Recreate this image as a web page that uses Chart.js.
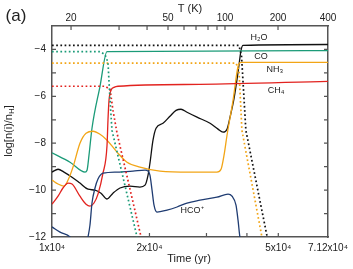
<!DOCTYPE html>
<html>
<head>
<meta charset="utf-8">
<script src="https://cdn.jsdelivr.net/npm/chart.js@4.4.0/dist/chart.umd.min.js"></script>
<style>
  html, body { margin: 0; padding: 0; background: #fff; }
</style>
</head>
<body>
<canvas id="myChart" width="353" height="269"></canvas>
<script>
// times in yr, abundances as log[n(i)/nH]
const h2oGasTime = [1.0e4, 1.044e4, 1.089e4, 1.153e4, 1.220e4, 1.292e4, 1.358e4, 1.417e4, 1.479e4, 1.543e4, 1.622e4, 1.741e4, 1.869e4, 1.938e4, 1.980e4, 2.007e4, 2.051e4, 2.096e4, 2.202e4, 2.314e4, 2.416e4, 2.503e4, 2.612e4, 2.805e4, 3.077e4, 3.257e4, 3.375e4, 3.472e4, 3.547e4, 3.650e4, 3.755e4, 3.836e4, 3.891e4, 7.12e4];
const h2oGasLog = [-9.23, -9.11, -9.23, -9.45, -9.70, -9.96, -10.0, -10.13, -10.38, -10.13, -9.91, -9.83, -9.87, -9.79, -9.36, -8.85, -7.87, -7.36, -7.15, -6.85, -6.60, -6.55, -6.68, -6.89, -7.15, -7.40, -7.53, -7.40, -6.89, -6.09, -4.98, -4.04, -3.83, -3.79];

const coGasTime = [1.0e4, 1.137e4, 1.265e4, 1.283e4, 1.301e4, 1.329e4, 1.407e4, 1.479e4, 7.12e4];
const coGasLog = [-8.41, -8.81, -9.23, -9.15, -8.51, -7.36, -5.57, -4.09, -4.05];

const nh3GasTime = [1.0e4, 1.044e4, 1.089e4, 1.121e4, 1.161e4, 1.220e4, 1.274e4, 1.339e4, 1.407e4, 1.479e4, 1.588e4, 1.705e4, 1.869e4, 2.156e4, 2.669e4, 3.233e4, 3.327e4, 3.399e4, 3.472e4, 3.624e4, 3.755e4, 3.836e4, 7.12e4];
const nh3GasLog = [-9.57, -9.74, -9.83, -9.57, -9.02, -8.0, -7.57, -7.49, -7.62, -7.87, -8.38, -8.81, -9.02, -9.19, -9.23, -9.23, -9.11, -8.51, -7.66, -6.17, -4.72, -4.55, -4.55];

const ch4GasTime = [1.0e4, 1.044e4, 1.081e4, 1.121e4, 1.153e4, 1.220e4, 1.274e4, 1.310e4, 1.348e4, 1.387e4, 1.437e4, 1.479e4, 1.489e4, 1.500e4, 1.522e4, 1.554e4, 1.599e4, 2.865e4, 7.12e4];
const ch4GasLog = [-10.60, -10.26, -9.91, -9.70, -9.74, -10.26, -10.60, -10.68, -10.55, -10.17, -9.28, -8.09, -7.02, -6.17, -5.74, -5.62, -5.57, -5.49, -5.36];

const hcoTime = [1.0e4, 1.059e4, 1.137e4, 1.186e4, 1.274e4, 1.292e4, 1.310e4, 1.329e4, 1.358e4, 1.387e4, 1.437e4, 1.588e4, 1.779e4, 1.938e4, 1.980e4, 2.007e4, 2.037e4, 2.066e4, 2.110e4, 2.266e4, 2.433e4, 2.612e4, 2.865e4, 3.233e4, 3.498e4, 3.598e4, 3.701e4, 3.755e4, 3.805e4, 3.92e4];
const hcoLog = [-11.57, -11.79, -12.0, -12.4, -12.4, -12.0, -11.49, -10.55, -9.91, -9.53, -9.28, -9.23, -9.19, -9.15, -9.19, -9.36, -10.0, -10.64, -10.94, -10.85, -10.72, -10.55, -10.43, -10.30, -10.17, -10.26, -10.64, -11.28, -12.0, -12.5];

// ices (dotted)
const h2oIceTime = [1.0e4, 3.78e4, 3.85e4, 3.97e4, 4.62e4];
const h2oIceLog = [-3.83, -3.83, -4.3, -7.45, -12.0];
const coIceTime = [1.0e4, 1.407e4, 1.458e4, 1.489e4, 1.511e4, 1.532e4, 1.831e4];
const coIceLog = [-4.09, -4.09, -4.22, -4.55, -6.17, -7.45, -12.0];
const nh3IceTime = [1.0e4, 3.70e4, 3.78e4, 3.86e4, 4.45e4];
const nh3IceLog = [-4.58, -4.58, -4.89, -7.45, -12.0];
const ch4IceTime = [1.0e4, 1.458e4, 1.511e4, 1.543e4, 1.588e4, 1.884e4];
const ch4IceLog = [-5.57, -5.57, -5.70, -6.60, -7.57, -12.0];

// axes
const timeTicks = [1e4, 2e4, 3e4, 4e4, 5e4, 7.12e4];
const timeLabels = ['1x10\u2074', '2x10\u2074', '', '', '5x10\u2074', '7.12x10\u2074'];
const tempTicks = [1.145e4, 1.611e4, 1.966e4, 2.282e4, 2.557e4, 2.785e4, 3.033e4, 3.233e4, 3.422e4, 4.990e4, 7.12e4];
const tempLabels = ['20', '', '', '50', '', '', '', '', '100', '200', '400'];

// species labels: [text, time, log]
const speciesLabels = [
    ['H\u2082O', 4.36e4, -3.49],
    ['CO', 4.42e4, -4.30],
    ['NH\u2083', 4.88e4, -4.85],
    ['CH\u2084', 4.92e4, -5.74],
    ['HCO\u207A', 2.707e4, -10.85]
];

const BLACK = '#111111';
const GREEN = '#1b9b78';
const ORANGE = '#f2a516';
const RED = '#e2231f';
const NAVY = '#1f3c72';
const FONT = "'Liberation Sans', Arial, sans-serif";

function pts(times, logs) {
    return times.map(function (t, i) { return { x: t, y: logs[i] }; });
}

function solid(times, logs, color) {
    return {
        data: pts(times, logs),
        borderColor: color,
        borderWidth: 1.3,
        pointRadius: 0,
        cubicInterpolationMode: 'monotone',
        fill: false
    };
}

function dotted(times, logs, color) {
    return {
        data: pts(times, logs),
        borderColor: color,
        borderWidth: 1.7,
        borderDash: [1.7, 2.5],
        borderCapStyle: 'butt',
        pointRadius: 0,
        tension: 0,
        fill: false
    };
}

const frameTicks = {
    id: 'frameTicks',
    afterDraw(chart) {
        const ctx = chart.ctx;
        const a = chart.chartArea;
        const sx = chart.scales.x, sx2 = chart.scales.x2, sy = chart.scales.y;
        ctx.save();
        ctx.strokeStyle = '#555';
        ctx.lineWidth = 1.2;
        ctx.beginPath();
        timeTicks.forEach(function (v) {
            const px = sx.getPixelForValue(v);
            if (px > a.left + 1 && px < a.right - 1) { ctx.moveTo(px, a.bottom); ctx.lineTo(px, a.bottom - 4); }
        });
        tempTicks.forEach(function (v) {
            const px = sx2.getPixelForValue(v);
            if (px > a.left + 1 && px < a.right - 1) { ctx.moveTo(px, a.top); ctx.lineTo(px, a.top + 4); }
        });
        sy.ticks.forEach(function (t) {
            const py = sy.getPixelForValue(t.value);
            if (py > a.top + 1 && py < a.bottom - 1) {
                ctx.moveTo(a.left, py); ctx.lineTo(a.left + 4, py);
                ctx.moveTo(a.right, py); ctx.lineTo(a.right - 4, py);
            }
        });
        ctx.stroke();

        // species names
        ctx.fillStyle = '#222';
        ctx.font = '9px ' + FONT;
        ctx.textAlign = 'center';
        ctx.textBaseline = 'middle';
        speciesLabels.forEach(function (s) {
            ctx.fillText(s[0], sx.getPixelForValue(s[1]), sy.getPixelForValue(s[2]));
        });

        // titles
        ctx.fillStyle = '#222';
        ctx.font = '11px ' + FONT;
        ctx.fillText('Time (yr)', 189, 259);
        ctx.fillText('T (K)', 190, 9);
        ctx.font = '17px ' + FONT;
        ctx.fillText('(a)', 16, 16);

        // y title with subscript H
        ctx.save();
        ctx.translate(9, 131);
        ctx.rotate(-Math.PI / 2);
        ctx.textAlign = 'left';
        ctx.font = '11px ' + FONT;
        const p1 = 'log[n(i)/n', p3 = ']';
        const w1 = ctx.measureText(p1).width, w3 = ctx.measureText(p3).width;
        ctx.font = '8px ' + FONT;
        const w2 = ctx.measureText('H').width;
        let x0 = -(w1 + w2 + w3) / 2;
        ctx.font = '11px ' + FONT;
        ctx.fillText(p1, x0, 0);
        ctx.font = '8px ' + FONT;
        ctx.fillText('H', x0 + w1, 3);
        ctx.font = '11px ' + FONT;
        ctx.fillText(p3, x0 + w1 + w2, 0);
        ctx.restore();
        ctx.restore();
    }
};

const tickFont = { family: FONT, size: 10 };

const config = {
    type: 'line',
    data: {
        datasets: [
            dotted(h2oIceTime, h2oIceLog, BLACK),
            dotted(coIceTime, coIceLog, GREEN),
            dotted(nh3IceTime, nh3IceLog, ORANGE),
            dotted(ch4IceTime, ch4IceLog, RED),
            solid(hcoTime, hcoLog, NAVY),
            solid(ch4GasTime, ch4GasLog, RED),
            solid(nh3GasTime, nh3GasLog, ORANGE),
            solid(coGasTime, coGasLog, GREEN),
            solid(h2oGasTime, h2oGasLog, BLACK)
        ]
    },
    options: {
        responsive: false,
        animation: false,
        devicePixelRatio: 1,
        parsing: false,
        layout: { padding: 0 },
        plugins: {
            legend: { display: false },
            tooltip: { enabled: false }
        },
        scales: {
            x: {
                type: 'logarithmic',
                position: 'bottom',
                min: 1e4,
                max: 7.12e4,
                afterBuildTicks: function (s) { s.ticks = timeTicks.map(function (v) { return { value: v }; }); },
                afterFit: function (s) { s.height = 32; },
                ticks: {
                    autoSkip: false, maxRotation: 0, padding: 5, color: '#222', font: tickFont,
                    callback: function (v, i) { return timeLabels[i]; }
                },
                grid: { drawOnChartArea: false, drawTicks: false },
                border: { color: '#555', width: 1.5 }
            },
            x2: {
                type: 'logarithmic',
                position: 'top',
                min: 1e4,
                max: 7.12e4,
                afterBuildTicks: function (s) { s.ticks = tempTicks.map(function (v) { return { value: v }; }); },
                afterFit: function (s) { s.height = 26; },
                ticks: {
                    autoSkip: false, maxRotation: 0, padding: 2, color: '#222', font: tickFont,
                    callback: function (v, i) { return tempLabels[i]; }
                },
                grid: { drawOnChartArea: false, drawTicks: false },
                border: { color: '#555', width: 1.5 }
            },
            y: {
                type: 'linear',
                position: 'left',
                min: -12,
                max: -3,
                afterFit: function (s) { s.width = 52; },
                ticks: {
                    stepSize: 1, padding: 6, color: '#222', font: tickFont,
                    callback: function (v) { return v % 2 === 0 ? '\u2212' + Math.abs(v) : ''; }
                },
                grid: { drawOnChartArea: false, drawTicks: false },
                border: { color: '#555', width: 1.5 }
            },
            y2: {
                type: 'linear',
                position: 'right',
                min: -12,
                max: -3,
                afterFit: function (s) { s.width = 25; },
                ticks: { display: false, stepSize: 1 },
                grid: { drawOnChartArea: false, drawTicks: false },
                border: { color: '#555', width: 1.5 }
            }
        }
    },
    plugins: [frameTicks]
};

const myChart = new Chart(document.getElementById('myChart'), config);
</script>
</body>
</html>
